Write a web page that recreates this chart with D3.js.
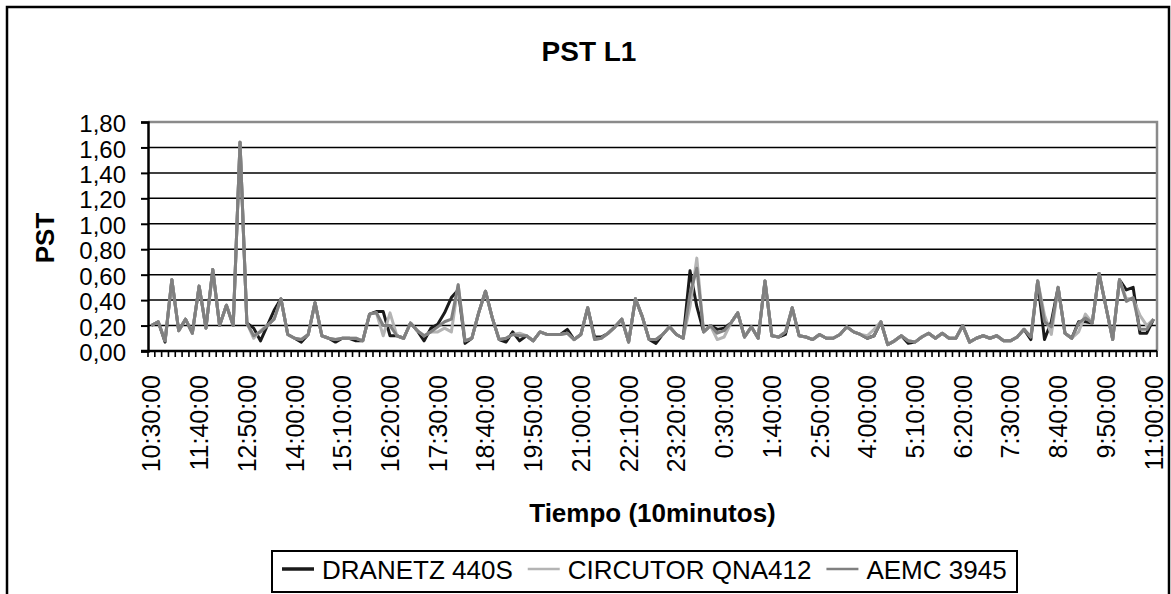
<!DOCTYPE html>
<html><head><meta charset="utf-8">
<script src="https://cdn.jsdelivr.net/npm/d3@7"></script>
<style>
body{margin:0;background:#fff;overflow:hidden}
text{font-family:"Liberation Sans", Arial, sans-serif;fill:#000}
</style>
</head><body>
<svg id="chart" width="1171" height="594"></svg>
<script>
const seriesNames = ["DRANETZ 440S", "CIRCUTOR QNA412", "AEMC 3945"];
const seriesColors = ["#1a1a1a", "#b4b4b4", "#808080"];

const dranetz = [
0.20,0.23,0.07,0.56,0.16,0.25,0.14,0.51,0.18,0.64,
0.20,0.36,0.20,1.64,0.22,0.18,0.08,0.20,0.32,0.41,
0.13,0.10,0.07,0.13,0.38,0.12,0.10,0.07,0.10,0.10,
0.08,0.08,0.29,0.31,0.31,0.12,0.12,0.10,0.22,0.16,
0.08,0.18,0.21,0.30,0.42,0.48,0.06,0.10,0.30,0.47,
0.26,0.09,0.07,0.15,0.08,0.12,0.08,0.15,0.13,0.13,
0.13,0.17,0.09,0.13,0.34,0.11,0.11,0.14,0.19,0.25,
0.07,0.41,0.27,0.09,0.06,0.13,0.19,0.13,0.10,0.63,
0.35,0.15,0.20,0.17,0.18,0.22,0.30,0.11,0.19,0.10,
0.55,0.12,0.11,0.13,0.34,0.12,0.11,0.09,0.13,0.10,
0.10,0.13,0.19,0.15,0.13,0.10,0.12,0.23,0.05,0.08,
0.12,0.06,0.07,0.11,0.14,0.10,0.14,0.10,0.10,0.20,
0.07,0.10,0.12,0.10,0.12,0.08,0.08,0.11,0.17,0.09,
0.55,0.09,0.23,0.50,0.14,0.10,0.23,0.23,0.22,0.61,
0.35,0.09,0.56,0.48,0.50,0.14,0.14,0.25];

const circutor = [
0.20,0.23,0.08,0.56,0.16,0.25,0.14,0.51,0.18,0.64,
0.20,0.36,0.20,1.64,0.22,0.10,0.16,0.20,0.25,0.41,
0.13,0.10,0.09,0.13,0.38,0.12,0.10,0.09,0.10,0.10,
0.10,0.08,0.29,0.30,0.12,0.30,0.12,0.10,0.22,0.16,
0.12,0.15,0.15,0.18,0.15,0.52,0.08,0.10,0.30,0.47,
0.26,0.09,0.10,0.13,0.14,0.12,0.08,0.15,0.13,0.13,
0.13,0.14,0.09,0.13,0.34,0.09,0.10,0.14,0.19,0.25,
0.07,0.41,0.27,0.09,0.09,0.13,0.19,0.13,0.10,0.35,
0.73,0.15,0.20,0.09,0.11,0.22,0.30,0.11,0.19,0.10,
0.55,0.12,0.11,0.15,0.34,0.12,0.11,0.09,0.13,0.10,
0.10,0.13,0.19,0.15,0.13,0.12,0.17,0.23,0.05,0.08,
0.12,0.08,0.07,0.11,0.14,0.10,0.14,0.10,0.10,0.20,
0.07,0.10,0.12,0.10,0.12,0.08,0.08,0.11,0.17,0.11,
0.55,0.28,0.13,0.50,0.14,0.10,0.15,0.29,0.22,0.61,
0.35,0.09,0.56,0.41,0.41,0.28,0.20,0.25];

const aemc = [
0.20,0.23,0.08,0.56,0.16,0.25,0.14,0.51,0.18,0.64,
0.20,0.36,0.20,1.64,0.22,0.12,0.15,0.20,0.25,0.41,
0.13,0.10,0.09,0.13,0.38,0.12,0.10,0.09,0.10,0.10,
0.10,0.08,0.29,0.30,0.20,0.20,0.12,0.10,0.22,0.16,
0.12,0.15,0.19,0.23,0.25,0.52,0.08,0.10,0.30,0.47,
0.26,0.09,0.10,0.13,0.12,0.12,0.08,0.15,0.13,0.13,
0.13,0.14,0.09,0.13,0.34,0.09,0.10,0.14,0.19,0.25,
0.07,0.41,0.27,0.09,0.09,0.13,0.19,0.13,0.10,0.45,
0.65,0.15,0.20,0.14,0.16,0.22,0.30,0.11,0.19,0.10,
0.55,0.12,0.11,0.15,0.34,0.12,0.11,0.09,0.13,0.10,
0.10,0.13,0.19,0.15,0.13,0.10,0.12,0.23,0.05,0.08,
0.12,0.08,0.07,0.11,0.14,0.10,0.14,0.10,0.10,0.20,
0.07,0.10,0.12,0.10,0.12,0.08,0.08,0.11,0.17,0.11,
0.55,0.23,0.19,0.50,0.14,0.10,0.22,0.26,0.22,0.61,
0.35,0.09,0.56,0.39,0.42,0.17,0.17,0.25];

const tickLabels = ["10:30:00","11:40:00","12:50:00","14:00:00","15:10:00","16:20:00",
"17:30:00","18:40:00","19:50:00","21:00:00","22:10:00","23:20:00","0:30:00","1:40:00",
"2:50:00","4:00:00","5:10:00","6:20:00","7:30:00","8:40:00","9:50:00","11:00:00"];
const yTicks = [0,0.2,0.4,0.6,0.8,1.0,1.2,1.4,1.6,1.8];

// categories: consecutive 10-minute timestamps starting at 10:30:00 (the day wraps, so labels repeat)
const fmtTime = d3.timeFormat("%-H:%M:%S");
const categories = d3.range(dranetz.length).map(i => fmtTime(new Date(2000, 0, 1, 10, 30 + 10 * i)));
const catIndex = d3.range(categories.length);
const allSeries = [dranetz, circutor, aemc];

// position of each tick label among the categories (search forward, since times repeat)
const tickPos = [];
let from = 0;
tickLabels.forEach(l => {
  let k = categories.indexOf(l, from);
  tickPos.push(k);
  from = k + 1;
});

const svg = d3.select("#chart");
const plot = {left: 148, right: 1157, top: 122, bottom: 351};

// chart border
svg.append("rect").attr("x", 7).attr("y", 7).attr("width", 1162).attr("height", 640)
  .attr("fill", "#fff").attr("stroke", "#000").attr("stroke-width", 2.5);

const x = d3.scalePoint().domain(catIndex).range([plot.left, plot.right]).padding(0.5);
const xBand = d3.scaleBand().domain(catIndex).range([plot.left, plot.right]);
const y = d3.scaleLinear().domain([0, 1.8]).range([plot.bottom, plot.top]);

// gridlines
svg.append("g").selectAll("line").data(yTicks.slice(1, -1)).join("line")
  .attr("x1", plot.left).attr("x2", plot.right)
  .attr("y1", d => y(d)).attr("y2", d => y(d))
  .attr("stroke", "#000").attr("stroke-width", 1.5);

// plot frame top/right (gray)
svg.append("path")
  .attr("d", `M${plot.left},${y(1.8)}H${plot.right}V${plot.bottom}`)
  .attr("fill", "none").attr("stroke", "#8a8a8a").attr("stroke-width", 2.5);

// lines
const line = d3.line().x((d, i) => x(i)).y(d => y(d));
allSeries.forEach((s, k) => {
  svg.append("path").datum(s).attr("d", line)
    .attr("fill", "none").attr("stroke", seriesColors[k]).attr("stroke-width", 3)
    .attr("stroke-linejoin", "round");
});

// y axis
const yAxis = d3.axisLeft(y).tickValues(yTicks)
  .tickFormat(d => d3.format(".2f")(d).replace(".", ","))
  .tickSize(7).tickPadding(15);
const gy = svg.append("g").attr("transform", `translate(${plot.left},0)`).call(yAxis);
gy.select(".domain").attr("stroke", "#000").attr("stroke-width", 2.5);
gy.selectAll(".tick line").attr("stroke", "#000").attr("stroke-width", 2);
gy.selectAll("text").attr("font-size", 24).attr("font-family", "Liberation Sans, Arial, sans-serif").attr("dy", "0.4em");

// x axis line & ticks at category boundaries
const bounds = catIndex.map(c => xBand(c)).concat([xBand.range()[1]]);
svg.append("g").selectAll("line").data(bounds).join("line")
  .attr("x1", d => d).attr("x2", d => d)
  .attr("y1", plot.bottom).attr("y2", plot.bottom + 6)
  .attr("stroke", "#000").attr("stroke-width", 1.6);
svg.append("line").attr("x1", plot.left - 7).attr("x2", plot.right)
  .attr("y1", plot.bottom).attr("y2", plot.bottom)
  .attr("stroke", "#000").attr("stroke-width", 2.5);

// x labels
svg.append("g").selectAll("text").data(tickLabels).join("text")
  .attr("transform", (d, j) => `translate(${x(tickPos[j])},375) rotate(-90)`)
  .attr("text-anchor", "end").attr("dy", "0.36em")
  .attr("font-size", 25).text(d => d);

// titles
svg.append("text").attr("x", 589).attr("y", 61).attr("text-anchor", "middle")
  .attr("font-size", 28).attr("font-weight", "bold").text("PST L1");
svg.append("text").attr("transform", "translate(54,238) rotate(-90)").attr("text-anchor", "middle")
  .attr("font-size", 26).attr("font-weight", "bold").text("PST");
svg.append("text").attr("x", (plot.left + plot.right) / 2).attr("y", 522).attr("text-anchor", "middle")
  .attr("font-size", 26).attr("font-weight", "bold").text("Tiempo (10minutos)");

// legend
const lg = svg.append("g");
lg.append("rect").attr("x", 272).attr("y", 551).attr("width", 745).attr("height", 41)
  .attr("fill", "#fff").attr("stroke", "#000").attr("stroke-width", 2);
let lx = 282;
seriesNames.forEach((n, k) => {
  lg.append("line").attr("x1", lx).attr("x2", lx + 32).attr("y1", 569).attr("y2", 569)
    .attr("stroke", seriesColors[k]).attr("stroke-width", k === 0 ? 3.5 : 2.5);
  const t = lg.append("text").attr("x", lx + 40).attr("y", 579).attr("font-size", 26).text(n);
  lx = lx + 40 + t.node().getComputedTextLength() + 15;
});
</script>
</body></html>
